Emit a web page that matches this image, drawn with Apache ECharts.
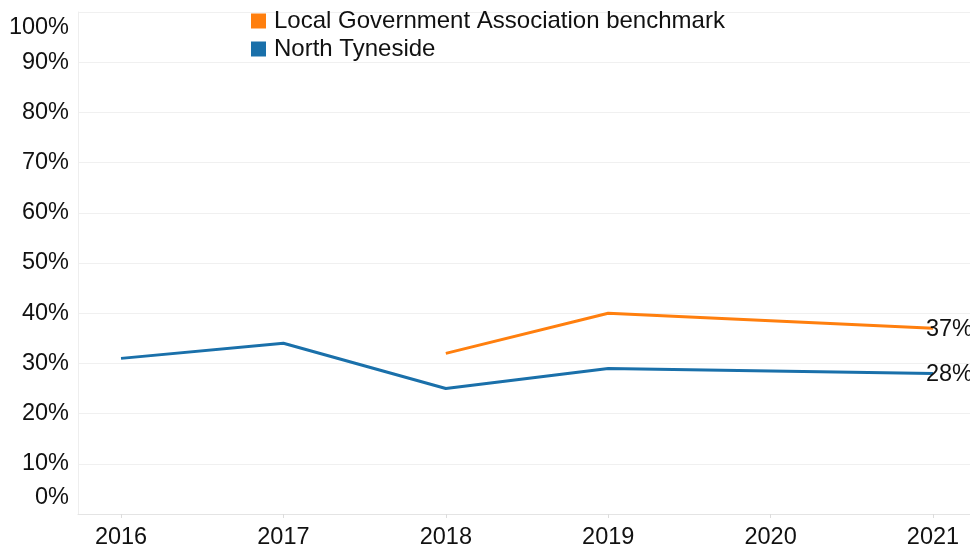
<!DOCTYPE html>
<html>
<head>
<meta charset="utf-8">
<script src="https://cdn.jsdelivr.net/npm/echarts@6/dist/echarts.min.js"></script>
<style>
  html, body { margin: 0; padding: 0; background: #fff; }
  #chart { width: 970px; height: 549px; }
</style>
</head>
<body>
<div id="chart"></div>
<script>
// data
const years = [2016, 2017, 2018, 2019, 2020, 2021];
const northTyneside = [31, 34, 25, 29, 28.5, 28];
const lgaBenchmark = [null, null, 32, 40, 38.5, 37];
const yTicks = [0, 10, 20, 30, 40, 50, 60, 70, 80, 90, 100];

const font = 'Liberation Sans, Arial, sans-serif';
const fs = 23.5;
const chart = echarts.init(document.getElementById('chart'));

const endLabel = {
  show: true,
  formatter: p => Math.round(p.value[1]) + '%',
  fontSize: fs,
  fontFamily: font,
  color: '#111',
  offset: [-15, 1]
};

const option = {
  animation: false,
  grid: { left: 78, right: 0, top: 12, bottom: 35, outerBoundsMode: 'none' },
  legend: {
    orient: 'vertical',
    left: 246,
    top: 4,
    itemWidth: 15,
    itemHeight: 15,
    itemGap: 4,
    icon: 'rect',
    textStyle: { fontSize: 24, fontFamily: font, color: '#111', padding: [0, 0, 0, 3] },
    data: ['Local Government Association benchmark', 'North Tyneside']
  },
  xAxis: {
    type: 'value',
    min: 2015.735,
    max: 2021.228,
    splitLine: { show: false },
    axisLine: { show: true, lineStyle: { color: '#e4e4e4' } },
    axisTick: { show: true, customValues: years, length: 4, lineStyle: { color: '#dcdcdc' } },
    axisLabel: {
      customValues: years,
      formatter: v => String(v),
      fontSize: fs,
      fontFamily: font,
      color: '#111',
      margin: 12
    }
  },
  yAxis: {
    type: 'value',
    min: 0,
    max: 100,
    interval: 10,
    axisLine: { show: true, lineStyle: { color: '#eeeeee' } },
    axisTick: { show: false },
    splitLine: { lineStyle: { color: '#f0f0f0' } },
    axisLabel: {
      customValues: yTicks,
      formatter: v => v + '%',
      fontSize: fs,
      lineHeight: 32,
      fontFamily: font,
      color: '#111',
      margin: 9,
      verticalAlignMinLabel: 'bottom',
      verticalAlignMaxLabel: 'top'
    }
  },
  series: [
    {
      name: 'Local Government Association benchmark',
      type: 'line',
      data: years.map((y, i) => [y, lgaBenchmark[i]]),
      showSymbol: false,
      color: '#ff7f0e',
      lineStyle: { width: 3 },
      endLabel: endLabel
    },
    {
      name: 'North Tyneside',
      type: 'line',
      data: years.map((y, i) => [y, northTyneside[i]]),
      showSymbol: false,
      color: '#1a70aa',
      lineStyle: { width: 3 },
      endLabel: endLabel
    }
  ]
};

option && chart.setOption(option);
</script>
</body>
</html>
